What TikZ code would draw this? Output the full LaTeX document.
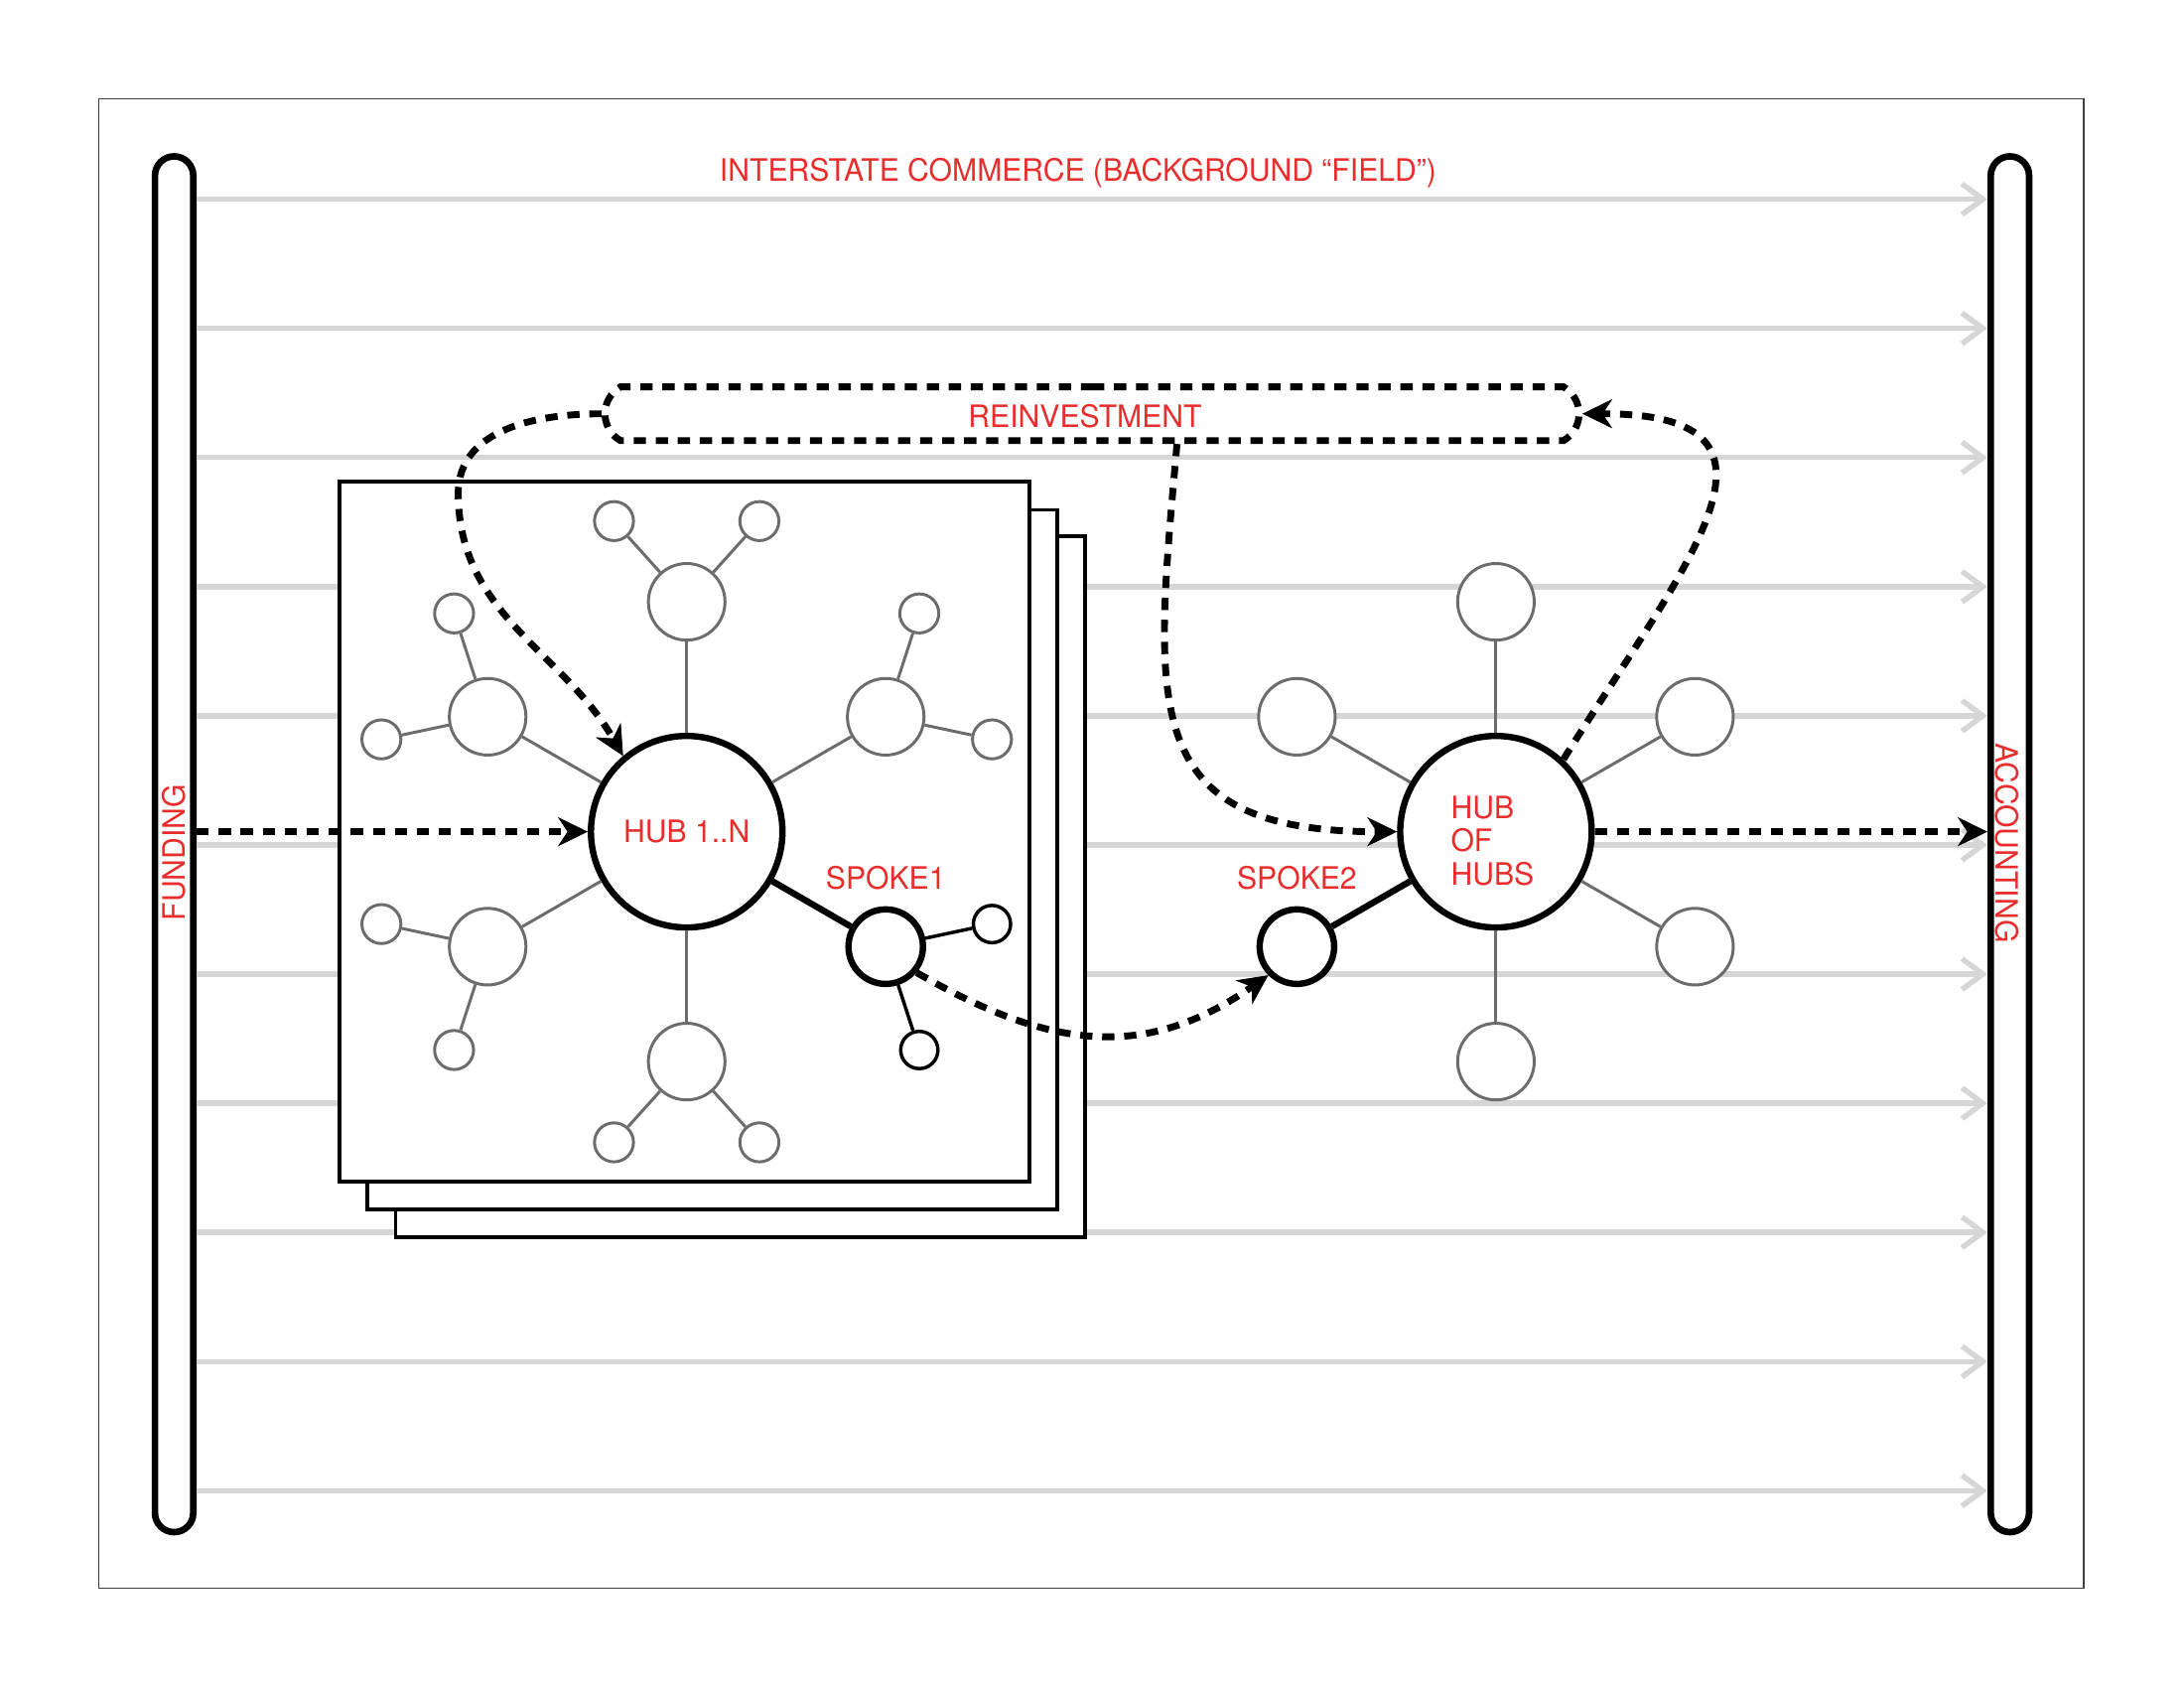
\documentclass[tikz,border=0pt]{standalone}
\usepackage{fontspec}
\setmainfont{TeX Gyre Heros}[FakeStretch=0.97]
\usetikzlibrary{arrows.meta}
\usetikzlibrary{positioning}
\usetikzlibrary{shapes.misc}
\definecolor{txtred}{RGB}{232,45,45}
\definecolor{fieldgray}{RGB}{214,214,214}
\definecolor{spokegray}{RGB}{108,108,108}

\begin{document}
\begin{tikzpicture}[x=0.2mm,y=0.2mm,
lbl/.style={text=txtred,font=\fontsize{12.6}{13.5}\selectfont},
bar/.style={draw,line width=2.7pt,rectangle,rounded corners=2.75mm,minimum width=5.5mm,minimum height=197.5mm},
fieldline/.style={draw=fieldgray,line width=2.2pt,-{Straight Barb[length=3mm,width=4.4mm]}},
sheet/.style={draw,fill=white,line width=1.6pt},
hub/.style={circle,draw,fill=white,line width=2.6pt,minimum size=27.5mm,inner sep=0pt},
spoke/.style={circle,draw,fill=white,line width=2.6pt,minimum size=10.7mm,inner sep=0pt},
twig/.style={circle,draw,fill=white,line width=1.4pt,minimum size=5.35mm,inner sep=0pt},
sat/.style={circle,draw=spokegray,fill=white,line width=1.2pt,minimum size=11mm,inner sep=0pt},
leaf/.style={circle,draw=spokegray,fill=white,line width=1.2pt,minimum size=5.6mm,inner sep=0pt},
spokeline/.style={draw=spokegray,line width=1.2pt},
flowline/.style={line width=2.8pt,dash pattern=on 5pt off 4pt,
  -{Stealth[length=4.3mm,width=4.2mm,inset=1.4mm,line width=0.3pt]}},
]
\useasboundingbox (0,0) rectangle (1568,1212);
\draw[black!75,line width=0.6pt] (71,72) rectangle (1496,1141);

% funding and accounting
\node[bar] (fund) at (125,606) {};
\node[bar] (acct) at (1443,606) {};
\node[lbl,rotate=90] (fundlbl) at (125,600) {FUNDING};
\node[lbl,rotate=-90] (acctlbl) at (1441,607) {ACCOUNTING};

% background field
\foreach \k [evaluate=\k as \yy using 1069-92.7*\k] in {0,...,10}
  \draw[fieldline] (fund.east |- 0,\yy) -- (acct.west |- 0,\yy);
\node[lbl] (field) at (774,1088) {INTERSTATE COMMERCE (BACKGROUND “FIELD”)};

% stack of hubs
\draw[sheet] (284,324) rectangle (779,827);
\draw[sheet] (264,344) rectangle (759,846);
\draw[sheet] (244,364) rectangle (739,866);

\node[hub,lbl] (hub1) at (493,615) {HUB 1..N};
\foreach \a/\n in {90/n,150/nw,210/sw,270/s,30/ne}{
  \path (hub1) ++(\a:165) node[sat] (h1-\n) {};
  \path (h1-\n) ++({\a+42}:78) node[leaf] (h1-\n-a) {};
  \path (h1-\n) ++({\a-42}:78) node[leaf] (h1-\n-b) {};
  \draw[spokeline] (hub1) -- (h1-\n);
  \draw[spokeline] (h1-\n) -- (h1-\n-a);
  \draw[spokeline] (h1-\n) -- (h1-\n-b);
}
\path (hub1) ++(-30:165) node[spoke] (spoke1) {};
\path (spoke1) ++(12:78) node[twig] (spoke1-a) {};
\path (spoke1) ++(-72:78) node[twig] (spoke1-b) {};
\draw[line width=2.6pt] (hub1) -- (spoke1);
\draw[line width=1.4pt] (spoke1) -- (spoke1-a);
\draw[line width=1.4pt] (spoke1) -- (spoke1-b);
\node[lbl,above=1.1mm of spoke1] (s1lbl) {SPOKE1};

% hub of hubs
\node[hub] (hoh) at (1074,615) {};
\node[lbl,align=left,xshift=-0.5mm,yshift=-1.3mm] (hohlbl) at (hoh) {HUB\\OF\\HUBS};
\foreach \a/\n in {90/n,150/nw,30/ne,-30/se,270/s}{
  \path (hoh) ++(\a:165) node[sat] (hh-\n) {};
  \draw[spokeline] (hoh) -- (hh-\n);
}
\path (hoh) ++(210:165) node[spoke] (spoke2) {};
\draw[line width=2.6pt] (hoh) -- (spoke2);
\node[lbl,above=1.1mm of spoke2] (s2lbl) {SPOKE2};

% reinvestment loop
\node[draw,line width=2.8pt,dash pattern=on 5pt off 4pt,
  rounded rectangle,rounded rectangle arc length=120,
  minimum width=142.2mm,minimum height=7.7mm] (reinv) at (784,915) {};
\node[lbl] (reinvlbl) at (779,913) {REINVESTMENT};
\coordinate (loopL) at (329,858);

\draw[flowline] (fund.east |- hub1) -- (hub1);
\draw[flowline] (hoh) -- (acct.west |- hoh);
\draw[flowline] (spoke1.-40) to[out=-30,in=-145,looseness=1.1] (spoke2.225);
\draw[flowline] (reinv.west) to[out=180,in=90] (loopL) to[out=-90,in=120] (hub1.130);
\draw[flowline] (reinv.south -| 845,0) to[out=-95,in=180,looseness=1.5] (hoh.west);
\draw[flowline] (hoh.47) to[out=58,in=0,looseness=1.72] (reinv.east);
\end{tikzpicture}
\end{document}
